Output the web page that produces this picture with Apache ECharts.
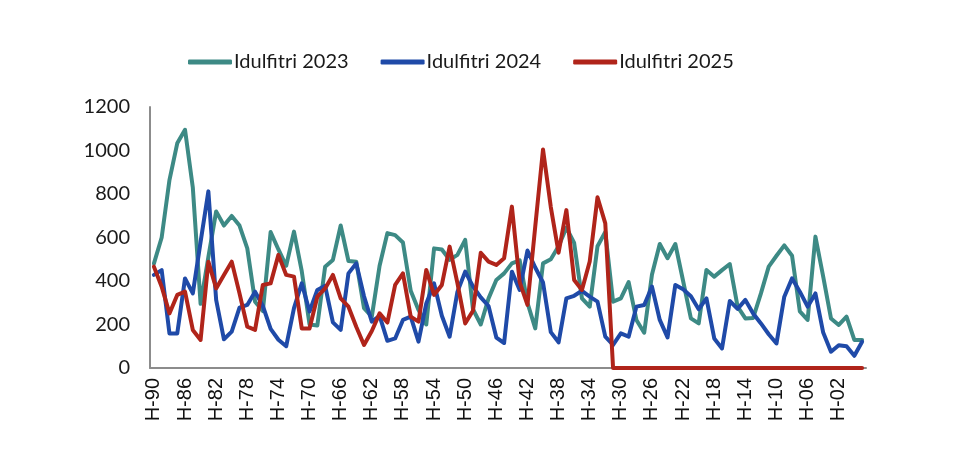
<!DOCTYPE html>
<html>
<head>
<meta charset="utf-8">
<script src="https://cdn.jsdelivr.net/npm/echarts@6/dist/echarts.min.js"></script>
<style>
html,body{margin:0;padding:0;background:#fff;}
#chart{width:960px;height:452px;}
</style>
</head>
<body>
<div id="chart"></div>
<script>
// Day offsets H-90 ... H+1
const dayOffsets = [];
for (let n = 90; n >= -1; n--) dayOffsets.push(n);
const categories = dayOffsets.map(n => n >= 0 ? 'H-' + String(n).padStart(2, '0') : 'H+' + String(-n).padStart(2, '0'));

const seriesNames = ['Idulfitri 2023', 'Idulfitri 2024', 'Idulfitri 2025'];

const idulfitri2023 = [480,600,864,1033,1095,830,295,510,720,655,699,655,550,305,262,625,545,470,627,445,
200,195,466,497,655,492,489,275,236,470,620,611,577,355,267,200,550,545,497,520,
589,270,200,320,405,435,481,495,300,182,481,500,560,645,575,320,282,560,625,305,
320,395,221,162,430,570,505,570,400,228,205,451,420,450,478,282,228,230,343,466,
516,564,516,260,221,604,420,228,198,236,129,129];

const idulfitri2024 = [428,450,159,159,412,343,580,812,313,132,167,278,290,351,285,180,130,100,275,389,
260,359,378,210,175,435,481,330,213,240,125,136,221,236,121,297,389,240,144,350,
443,375,325,285,140,115,443,359,540,462,393,165,118,320,332,355,328,305,144,106,
159,144,282,290,374,221,141,382,362,330,270,320,136,90,308,272,313,251,205,155,
113,328,412,351,282,343,163,75,105,100,56,121];

const idulfitri2025 = [466,374,251,336,351,175,129,489,366,428,489,343,190,175,382,389,520,428,420,182,
182,328,366,428,320,282,190,106,170,251,209,382,435,236,213,451,336,382,558,390,
205,263,530,489,474,505,742,395,290,650,1005,740,530,726,405,359,490,785,665,0,
0,0,0,0,0,0,0,0,0,0,0,0,0,0,0,0,0,0,0,0,
0,0,0,0,0,0,0,0,0,0,0,0];

const colors = ['#3d8a85', '#1f4aa8', '#b0241a'];

const chart = echarts.init(document.getElementById('chart'), null, {renderer: 'canvas'});
const mk = (name, data, color) => ({
  name, type: 'line', data, showSymbol: false, symbol: 'none',
  lineStyle: {color, width: 4, join: 'round', cap: 'round'},
  itemStyle: {color}, animation: false
});
chart.setOption({
  animation: false,
  color: colors,
  legend: {
    data: seriesNames,
    left: 183, top: 47,
    icon: 'roundRect',
    itemWidth: 44, itemHeight: 5, itemGap: 32,
    textStyle: {fontFamily: 'Lato', fontSize: 20, color: '#1a1a1a', padding: [0,0,0,-3]}
  },
  grid: {left: 150, right: 94, top: 107, bottom: 84, containLabel: false},
  xAxis: {
    type: 'category', data: categories, boundaryGap: true,
    axisLine: {show: true, lineStyle: {color: '#8c8c8c', width: 2}},
    axisTick: {show: false},
    axisLabel: {interval: 3, rotate: 90, fontFamily: 'Liberation Sans', fontSize: 20, color: '#111', margin: 10}
  },
  yAxis: {
    type: 'value', min: 0, max: 1200, interval: 200,
    axisLine: {show: true, lineStyle: {color: '#8c8c8c', width: 2}},
    axisTick: {show: false},
    splitLine: {show: false},
    axisLabel: {fontFamily: 'Lato', fontSize: 20, color: '#1a1a1a', margin: 20, formatter: v => String(v)}
  },
  series: [
    mk(seriesNames[0], idulfitri2023, colors[0]),
    mk(seriesNames[1], idulfitri2024, colors[1]),
    mk(seriesNames[2], idulfitri2025, colors[2])
  ]
});
</script>
</body>
</html>
